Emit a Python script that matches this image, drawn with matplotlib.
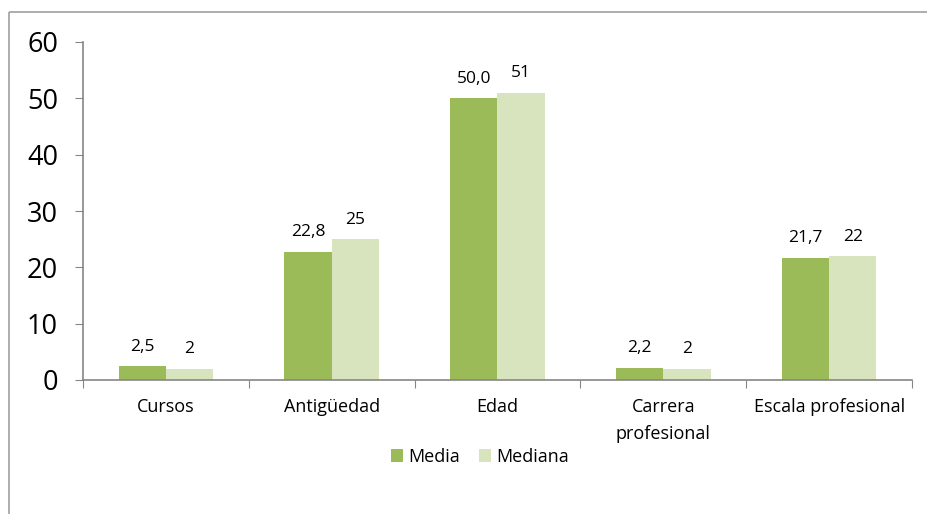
import matplotlib.pyplot as plt
import numpy as np
from matplotlib.lines import Line2D

categorias = ['Cursos', 'Antigüedad', 'Edad', 'Carrera\nprofesional', 'Escala profesional']
media = [2.5, 22.8, 50.0, 2.2, 21.7]
mediana = [2, 25, 51, 2, 22]
etiq_media = ['2,5', '22,8', '50,0', '2,2', '21,7']
etiq_mediana = ['2', '25', '51', '2', '22']

plt.rcParams['font.family'] = ['Open Sans', 'DejaVu Sans']

fig = plt.figure(figsize=(9.28, 5.14), dpi=100)
ax = fig.add_axes([83/928, 1-380/514, 829/928, 338/514])

# marco del grafico (solo izquierda y arriba se ven)
x0, y0 = 9.5/928, 1 - 11.5/514
fig.lines.append(Line2D([x0, x0], [-0.05, y0], transform=fig.transFigure,
                        color='#a0a0a0', lw=1.2, solid_capstyle='butt'))
fig.lines.append(Line2D([x0, 1.05], [y0, y0], transform=fig.transFigure,
                        color='#a0a0a0', lw=1.2, solid_capstyle='butt'))

x = np.arange(len(categorias))
w = 1/3.5
b1 = ax.bar(x - w/2, media, w, color='#9bbb59', label='Media')
b2 = ax.bar(x + w/2, mediana, w, color='#d7e4bd', label='Mediana')

for rect, t in zip(b1, etiq_media):
    ax.text(rect.get_x() + rect.get_width()/2, rect.get_height() + 2.0, t,
            ha='center', va='bottom', fontsize=12.5)
for rect, t in zip(b2, etiq_mediana):
    ax.text(rect.get_x() + rect.get_width()/2, rect.get_height() + 2.0, t,
            ha='center', va='bottom', fontsize=12.5)

ax.set_xlim(-0.5, len(categorias) - 0.5)
ax.set_ylim(0, 60)
ax.set_yticks(range(0, 61, 10))
ax.tick_params(axis='y', labelsize=19.5, length=6, color='#868686', pad=12)

ax.set_xticks(np.arange(-0.5, len(categorias), 1))
ax.set_xticklabels([])
ax.set_xticks(x, minor=True)
ax.set_xticklabels(categorias, minor=True, fontsize=13)
for lab in ax.get_xticklabels(minor=True):
    lab.set_linespacing(1.65)
ax.tick_params(axis='x', which='major', length=6, color='#868686')
ax.tick_params(axis='x', which='minor', length=0, pad=13)

for s in ['top', 'right']:
    ax.spines[s].set_visible(False)
for s in ['left', 'bottom']:
    ax.spines[s].set_color('#868686')
    ax.spines[s].set_linewidth(1.2)

fig.legend(handles=[b1, b2], loc='center', bbox_to_anchor=(480/928, 1-457/514), ncol=2,
           frameon=False, fontsize=13, handlelength=0.7, handleheight=0.7,
           columnspacing=1.0, handletextpad=0.3)

fig.savefig('out.png', dpi=100)
